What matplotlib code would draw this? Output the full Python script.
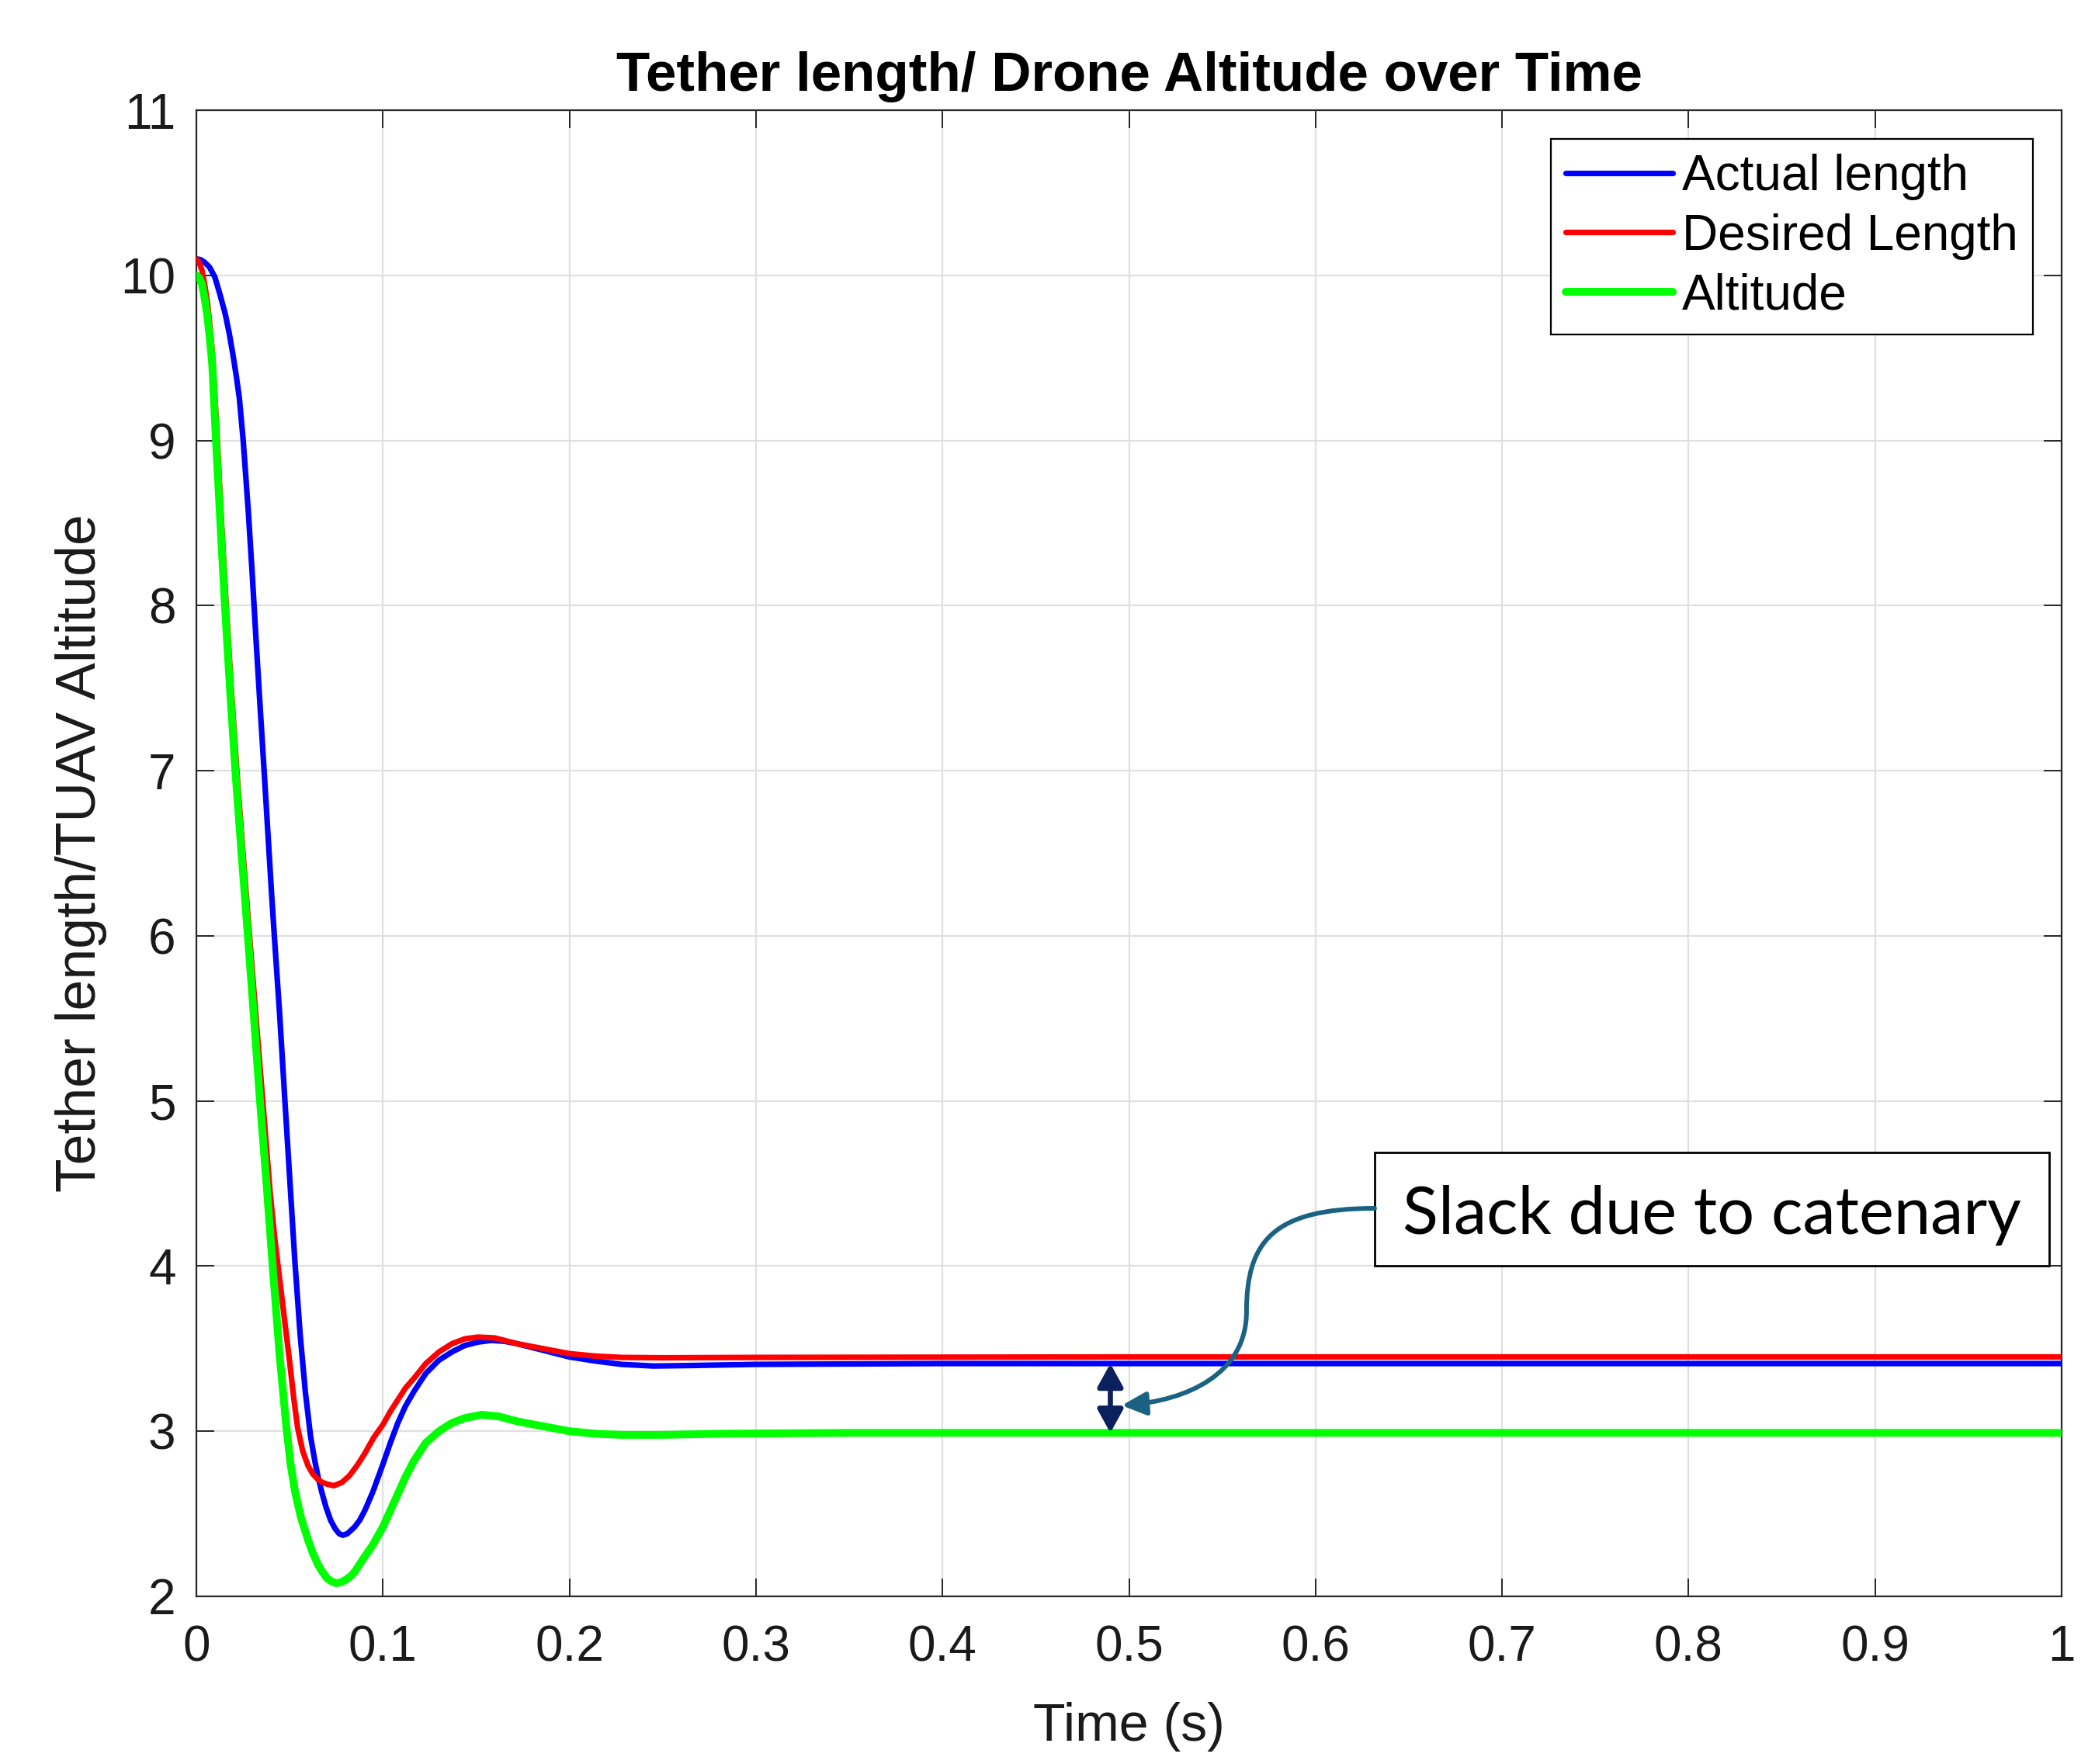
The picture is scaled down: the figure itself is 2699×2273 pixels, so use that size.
import matplotlib
matplotlib.use('Agg')
import matplotlib.pyplot as plt
from matplotlib.patches import Rectangle, FancyArrowPatch
from matplotlib.path import Path

# ---------------- data ----------------
t_actual = [0, 0.0022, 0.0043, 0.0070, 0.0099, 0.0125, 0.0154, 0.0176, 0.0196, 0.0214,
            0.0230, 0.0251, 0.0279, 0.0300, 0.0320, 0.0341, 0.0362, 0.0383, 0.0404, 0.0425,
            0.0445, 0.0473, 0.0501, 0.0528, 0.0556, 0.0584, 0.0612, 0.0635, 0.0653, 0.0675,
            0.0695, 0.0720, 0.0744, 0.0765, 0.0785, 0.0810, 0.0848, 0.0875, 0.0903, 0.0945,
            0.100, 0.104, 0.108, 0.112, 0.1166, 0.123, 0.130, 0.137, 0.144, 0.151,
            0.158, 0.165, 0.172, 0.186, 0.200, 0.214, 0.228, 0.245, 0.265, 0.300,
            0.400, 0.600, 0.800, 1.0]
actual_length = [10.10, 10.095, 10.08, 10.05, 9.99, 9.89, 9.77, 9.65, 9.52, 9.39,
                 9.26, 9.0, 8.56, 8.18, 7.79, 7.40, 7.02, 6.63, 6.24, 5.88,
                 5.55, 5.03, 4.52, 4.03, 3.59, 3.24, 2.97, 2.82, 2.72, 2.62,
                 2.54, 2.46, 2.41, 2.38, 2.37, 2.38, 2.42, 2.46, 2.52, 2.63,
                 2.80, 2.93, 3.05, 3.15, 3.24, 3.35, 3.43, 3.48, 3.52, 3.54,
                 3.55, 3.545, 3.53, 3.49, 3.45, 3.425, 3.405, 3.395, 3.398, 3.405,
                 3.41, 3.41, 3.41, 3.41]

t_desired = [0, 0.0015, 0.0030, 0.0045, 0.0060, 0.0074, 0.0088, 0.0110, 0.0135, 0.0160,
             0.0187, 0.0217, 0.0250, 0.0285, 0.0320, 0.0356, 0.0395, 0.0420, 0.0440, 0.0470,
             0.0500, 0.0522, 0.0543, 0.0570, 0.0599, 0.0625, 0.0650, 0.0675, 0.0700, 0.0737,
             0.0780, 0.0820, 0.0860, 0.0900, 0.0950, 0.1000, 0.1040, 0.1080, 0.1120, 0.1166,
             0.1230, 0.1300, 0.1370, 0.1440, 0.1510, 0.1600, 0.1720, 0.1860, 0.2000, 0.2140,
             0.2280, 0.2500, 0.3000, 0.5000, 0.7500, 1.0]
desired_length = [10.1, 10.08, 10.03, 9.94, 9.83, 9.68, 9.5, 9.05, 8.5, 8.0,
                  7.5, 7.0, 6.5, 6.0, 5.5, 5.0, 4.45, 4.17, 3.98, 3.70,
                  3.42, 3.20, 3.02, 2.88, 2.79, 2.74, 2.71, 2.69, 2.68, 2.67,
                  2.69, 2.73, 2.79, 2.86, 2.96, 3.04, 3.12, 3.19, 3.26, 3.32,
                  3.41, 3.48, 3.53, 3.56, 3.57, 3.565, 3.53, 3.50, 3.47, 3.455,
                  3.447, 3.445, 3.447, 3.45, 3.45, 3.45]

t_altitude = [0, 0.0015, 0.0029, 0.0043, 0.0057, 0.0071, 0.0085, 0.0105, 0.0130, 0.0153,
              0.0180, 0.0209, 0.0242, 0.0276, 0.0309, 0.0341, 0.0376, 0.0411, 0.0447, 0.0482,
              0.0505, 0.0528, 0.0560, 0.0599, 0.0625, 0.0653, 0.0675, 0.0700, 0.0725, 0.0750,
              0.0775, 0.0800, 0.0825, 0.0850, 0.0890, 0.0945, 0.1000, 0.1040, 0.1080, 0.1120,
              0.1166, 0.1230, 0.1300, 0.1370, 0.1440, 0.1530, 0.1620, 0.1720, 0.1860, 0.2000,
              0.2140, 0.2280, 0.2500, 0.2800, 0.3500, 0.5000, 0.7500, 1.0]
altitude = [10.0, 9.985, 9.95, 9.87, 9.77, 9.63, 9.46, 9.0, 8.47, 8.0,
            7.5, 7.0, 6.5, 6.0, 5.5, 5.0, 4.5, 3.97, 3.45, 3.03,
            2.80, 2.64, 2.48, 2.34, 2.26, 2.19, 2.15, 2.11, 2.09, 2.08,
            2.085, 2.10, 2.12, 2.15, 2.22, 2.31, 2.42, 2.52, 2.62, 2.72,
            2.82, 2.93, 3.0, 3.05, 3.08, 3.10, 3.09, 3.06, 3.03, 3.0,
            2.985, 2.978, 2.978, 2.985, 2.99, 2.99, 2.99, 2.99]

x_ticks = [0, 0.1, 0.2, 0.3, 0.4, 0.5, 0.6, 0.7, 0.8, 0.9, 1.0]
x_tick_labels = ['0', '0.1', '0.2', '0.3', '0.4', '0.5', '0.6', '0.7', '0.8', '0.9', '1']
y_ticks = [2, 3, 4, 5, 6, 7, 8, 9, 10, 11]
y_tick_labels = ['2', '3', '4', '5', '6', '7', '8', '9', '10', '11']

series_labels = ['Actual length', 'Desired Length', 'Altitude']
title_text = 'Tether length/ Drone Altitude over Time'
x_label = 'Time (s)'
y_label = 'Tether length/TUAV Altitude'
annotation_text = 'Slack due to catenary'
slack_time = 0.49

# ---------------- style ----------------
plt.rcParams['font.family'] = ['Liberation Sans', 'DejaVu Sans']
AX_COLOR = '#262626'

W, H = 2699, 2273
fig = plt.figure(figsize=(W / 100, H / 100), dpi=100)
L, R, T, B = 253, 2656, 142, 2057
ax = fig.add_axes([L / W, 1 - B / H, (R - L) / W, (B - T) / H])

line_kw = dict(solid_joinstyle='round', solid_capstyle='round')
ax.plot(t_actual, actual_length, color='#0000FF', lw=5.2, label=series_labels[0],
        zorder=3, **line_kw)
ax.plot(t_desired, desired_length, color='#FF0000', lw=5.2, label=series_labels[1],
        zorder=4, **line_kw)
ax.plot(t_altitude, altitude, color='#00FF00', lw=7.2, label=series_labels[2],
        zorder=5, **line_kw)

ax.set_xlim(0, 1)
ax.set_ylim(2, 11)
ax.set_xticks(x_ticks)
ax.set_xticklabels(x_tick_labels)
ax.set_yticks(y_ticks)
ax.set_yticklabels(y_tick_labels)

ax.tick_params(axis='both', direction='in', length=16.5, width=1.4, top=True, right=True,
               colors=AX_COLOR, labelsize=46, labelcolor='#1a1a1a')
ax.tick_params(axis='x', pad=26)
ax.tick_params(axis='y', pad=19)
for s in ax.spines.values():
    s.set_linewidth(1.6)
    s.set_color(AX_COLOR)
ax.grid(True, color='#E0E0E0', linewidth=1.6)
ax.set_axisbelow(True)

ax.set_title(title_text, fontsize=51, fontweight='bold', pad=18, color='black')
ax.set_xlabel(x_label, fontsize=49, color='#1a1a1a', va='center')
ax.xaxis.set_label_coords(0.5, -0.0877)
ax.set_ylabel(y_label, fontsize=51.5, color='#1a1a1a', va='center')
ax.yaxis.set_label_coords(-0.062, 0.5)

leg = ax.legend(loc='upper right', bbox_to_anchor=(0.9846, 0.9807), fontsize=46,
                frameon=True, fancybox=False, framealpha=1, edgecolor='black',
                handlelength=2.16, handletextpad=0.19, borderpad=0.3, labelspacing=0.26,
                borderaxespad=0)
leg.get_frame().set_linewidth(1.6)

# annotation box
box_x0, box_y0, box_w, box_h = 0.6317, 0.2225, 0.3616, 0.0762
ax.add_patch(Rectangle((box_x0, box_y0), box_w, box_h, transform=ax.transAxes,
                       facecolor='white', edgecolor='black', lw=2.0, zorder=6))
ax.text(box_x0 + box_w / 2, box_y0 + box_h / 2 - 0.004, annotation_text,
        transform=ax.transAxes, ha='center', va='center', fontsize=61,
        family=['Lato', 'DejaVu Sans'], color='black', zorder=7)

# double arrow showing the slack between tether length and altitude
ax.annotate('', xy=(slack_time, altitude[-1]), xytext=(slack_time, actual_length[-1]),
            arrowprops=dict(arrowstyle='<|-|>,head_length=1.0,head_width=0.55',
                            mutation_scale=18, color='#0B215E', lw=4.8,
                            shrinkA=0, shrinkB=0), zorder=8)

# curved pointer from the box to the double arrow
verts = [(0.6317, 0.2611), (0.5772, 0.2611), (0.5630, 0.2386), (0.5630, 0.1916),
         (0.5630, 0.1499), (0.5314, 0.1316), (0.4961, 0.1285)]
codes = [Path.MOVETO, Path.CURVE4, Path.CURVE4, Path.CURVE4,
         Path.CURVE4, Path.CURVE4, Path.CURVE4]
arrow = FancyArrowPatch(path=Path(verts, codes), transform=ax.transAxes,
                        arrowstyle='-|>,head_length=1.05,head_width=0.5',
                        mutation_scale=18, color='#1B6282', lw=4.3, zorder=8)
ax.add_patch(arrow)

fig.savefig('out.png', dpi=100)
